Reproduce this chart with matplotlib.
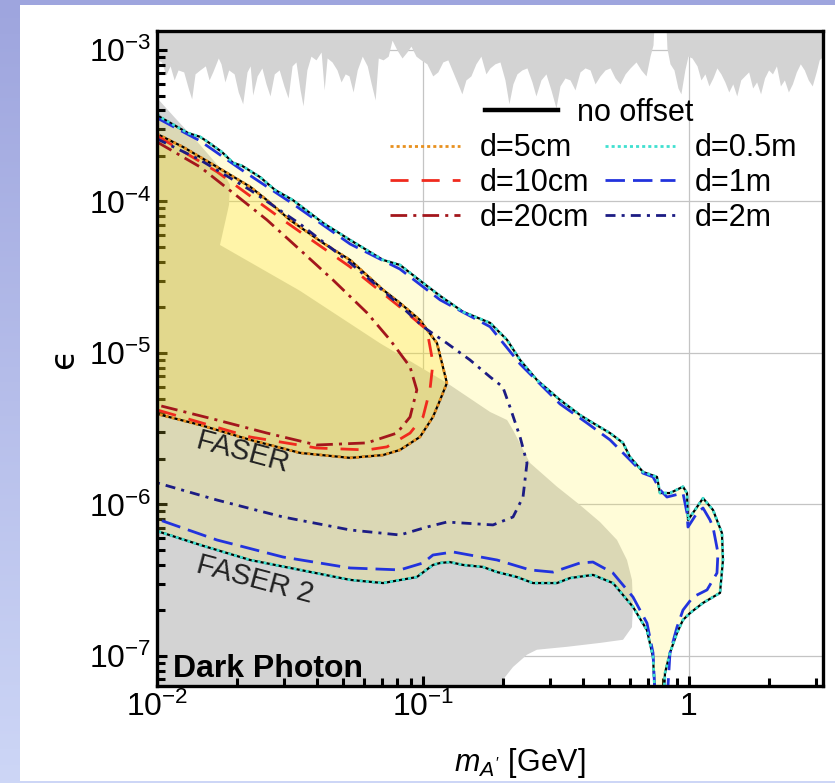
import numpy as np
import matplotlib
matplotlib.use("Agg")
import matplotlib.pyplot as plt
from matplotlib.lines import Line2D
from matplotlib.patches import Rectangle
from matplotlib.ticker import FixedLocator, FixedFormatter, LogLocator, NullFormatter

plt.rcParams['font.family'] = ['Liberation Sans', 'DejaVu Sans']
plt.rcParams['mathtext.fontset'] = 'custom'
plt.rcParams['mathtext.rm'] = 'Liberation Sans'
plt.rcParams['mathtext.it'] = 'Liberation Sans:italic'
plt.rcParams['mathtext.bf'] = 'Liberation Sans:bold'

# ---- existing bounds: jagged band at the top (lower edge)
band_m = [0.0100, 0.0104, 0.0108, 0.0112, 0.0116, 0.0120, 0.0126, 0.0131, 0.0135, 0.0139,
          0.0145, 0.0152, 0.0157, 0.0162, 0.0170, 0.0174, 0.0180, 0.0186, 0.0195, 0.0202,
          0.0210, 0.0218, 0.0224, 0.0229, 0.0238, 0.0248, 0.0257, 0.0266, 0.0276, 0.0288,
          0.0300, 0.0311, 0.0322, 0.0333, 0.0345, 0.0354, 0.0366, 0.0379, 0.0396, 0.0414,
          0.0425, 0.0436, 0.0455, 0.0475, 0.0492, 0.0510, 0.0527, 0.0546, 0.0566, 0.0591,
          0.0617, 0.0639, 0.0661, 0.0679, 0.0708, 0.0740, 0.0765, 0.0798, 0.0834, 0.0870,
          0.0901, 0.0941, 0.0982, 0.1034, 0.1088, 0.1137, 0.1187, 0.1240, 0.1295, 0.1352,
          0.1400, 0.1450, 0.1514, 0.1581, 0.1651, 0.1724, 0.1785, 0.1864, 0.1947, 0.2033,
          0.2104, 0.2178, 0.2255, 0.2355, 0.2459, 0.2568, 0.2658, 0.2776, 0.2899, 0.3027,
          0.3162, 0.3273, 0.3418, 0.3570, 0.3728, 0.3893, 0.4066, 0.4246, 0.4434, 0.4630,
          0.4836, 0.5050, 0.5273, 0.5507, 0.5751, 0.6006, 0.6322, 0.6602, 0.6895, 0.7136,
          0.7324, 0.7452, 0.8125, 0.8265, 0.8484, 0.8780, 0.9087, 0.9323, 0.9648, 0.9913,
          1.026, 1.072, 1.109, 1.148, 1.188, 1.230, 1.273, 1.318, 1.364, 1.411,
          1.461, 1.512, 1.565, 1.619, 1.676, 1.735, 1.796, 1.858, 1.923, 1.991,
          2.060, 2.132, 2.207, 2.284, 2.364, 2.447, 2.533, 2.621, 2.713, 2.808,
          2.906, 3.008, 3.087, 3.19]
band_eps = [8.6e-4, 8.33e-4, 6.84e-4, 7.85e-4, 6.34e-4, 7.38e-4, 7.16e-4, 5.61e-4, 4.75e-4, 6.95e-4,
            7.38e-4, 7.85e-4, 6.34e-4, 7.16e-4, 8.85e-4, 8.1e-4, 6.15e-4, 7.38e-4, 6.95e-4, 5.28e-4,
            4.41e-4, 7.16e-4, 7.85e-4, 5.04e-4, 6.74e-4, 7.61e-4, 5.97e-4, 4.97e-4, 6.95e-4, 7.38e-4,
            5.79e-4, 4.82e-4, 7.85e-4, 8.33e-4, 5.45e-4, 4.28e-4, 7.38e-4, 9.1e-4, 8.6e-4, 9.7e-4,
            5.45e-4, 8.85e-4, 8.33e-4, 7.38e-4, 6.15e-4, 6.95e-4, 6.74e-4, 5.28e-4, 7.38e-4, 9.1e-4,
            7.85e-4, 5.97e-4, 4.68e-4, 8.85e-4, 8.6e-4, 9.1e-4, 1.16e-3, 1.0e-3, 8.85e-4, 9.7e-4,
            1.06e-3, 9.1e-4, 8.6e-4, 8.1e-4, 6.74e-4, 7.16e-4, 8.33e-4, 8.6e-4, 7.16e-4, 5.97e-4,
            5.13e-4, 6.34e-4, 6.74e-4, 8.1e-4, 9.1e-4, 6.95e-4, 7.61e-4, 8.1e-4, 8.33e-4, 6.34e-4,
            4.41e-4, 5.97e-4, 6.95e-4, 7.38e-4, 7.61e-4, 6.15e-4, 4.97e-4, 6.34e-4, 6.95e-4, 5.45e-4,
            4.14e-4, 5.79e-4, 6.53e-4, 6.34e-4, 5.45e-4, 7.16e-4, 7.61e-4, 7.38e-4, 5.97e-4, 6.74e-4,
            7.38e-4, 7.61e-4, 6.53e-4, 5.97e-4, 6.95e-4, 7.61e-4, 8.33e-4, 7.38e-4, 6.74e-4, 9.1e-4,
            1.08e-3, 2.0e-3, 2.0e-3, 1.02e-3, 8.1e-4, 7.38e-4, 5.61e-4, 5.13e-4, 7.38e-4, 9.1e-4,
            8.85e-4, 7.85e-4, 6.34e-4, 6.95e-4, 5.79e-4, 6.53e-4, 7.61e-4, 6.95e-4, 6.15e-4, 5.28e-4,
            5.97e-4, 4.97e-4, 6.34e-4, 6.74e-4, 7.16e-4, 5.61e-4, 6.15e-4, 5.13e-4, 6.53e-4, 7.38e-4,
            6.95e-4, 7.85e-4, 5.79e-4, 6.34e-4, 5.28e-4, 5.97e-4, 7.16e-4, 8.1e-4, 7.38e-4, 6.34e-4,
            5.79e-4, 7.16e-4, 8.6e-4, 9.1e-4]

# ---- existing bounds: big region at low epsilon (outline)
bound_m = [0.0100, 0.01169, 0.01452, 0.01754, 0.01881, 0.01865, 0.01725, 0.0345, 0.0689, 0.123,
           0.1787, 0.207, 0.218, 0.2525, 0.319, 0.389, 0.4628, 0.5363, 0.5846, 0.6104,
           0.6158, 0.6104, 0.5649, 0.4628, 0.3476, 0.268, 0.246, 0.218, 0.1995, 0.1948, 0.0100]
bound_eps = [4.82e-4, 3.56e-4, 2.36e-4, 1.61e-4, 1.29e-4, 9.48e-5, 5.16e-5, 2.57e-5, 1.16e-5, 6.34e-6,
             4.08e-6, 3.61e-6, 3.10e-6, 1.88e-6, 1.31e-6, 9.93e-7, 7.66e-7, 5.83e-7, 4.30e-7, 3.18e-7,
             2.17e-7, 1.55e-7, 1.28e-7, 1.22e-7, 1.15e-7, 1.10e-7, 1.02e-7, 8.46e-8, 6.95e-8, 3e-8, 3e-8]

# ---- FASER 2 reach, no offset (same as d=0.5m)
faser2_m = [0.0100, 0.01026, 0.01307, 0.01452, 0.01554, 0.01754, 0.01931, 0.02087, 0.02438, 0.0278,
            0.03245, 0.0421, 0.0532, 0.0708, 0.0819, 0.100, 0.116, 0.1414, 0.1787, 0.207,
            0.2317, 0.268, 0.3273, 0.389, 0.4355, 0.5047, 0.5649, 0.5998, 0.6715, 0.758,
            0.778, 0.8484, 0.9493, 0.9828, 0.9913, 1.072, 1.129, 1.231, 1.33, 1.342,
            1.308, 1.129, 1.0087, 0.9493, 0.9013, 0.8484, 0.8125, 0.7915, 0.758, 0.7323,
            0.695, 0.6158, 0.5178, 0.4355, 0.357, 0.319, 0.259, 0.2256, 0.190, 0.168,
            0.1414, 0.126, 0.116, 0.109, 0.0948, 0.0708, 0.0532, 0.0345, 0.0224, 0.01452, 0.0100]
faser2_eps = [3.78e-4, 3.61e-4, 2.83e-4, 2.67e-4, 2.47e-4, 2.12e-4, 1.80e-4, 1.72e-4, 1.45e-4, 1.19e-4,
              1.02e-4, 7.21e-5, 5.57e-5, 4.11e-5, 3.81e-5, 2.90e-5, 2.38e-5, 1.87e-5, 1.58e-5, 1.22e-5,
              8.99e-6, 6.64e-6, 4.90e-6, 3.90e-6, 3.45e-6, 2.96e-6, 2.55e-6, 2.06e-6, 1.64e-6, 1.52e-6,
              1.19e-6, 1.19e-6, 1.31e-6, 1.19e-6, 7.91e-7, 9.62e-7, 1.10e-6, 9.20e-7, 6.48e-7, 4.30e-7,
              2.61e-7, 2.24e-7, 1.92e-7, 1.73e-7, 1.42e-7, 1.05e-7, 7.72e-8, 3e-8, 3e-8, 9.85e-8,
              1.48e-7, 2.11e-7, 3.03e-7, 3.43e-7, 3.27e-7, 3.03e-7, 3.03e-7, 3.32e-7, 3.58e-7, 3.87e-7,
              3.99e-7, 4.17e-7, 4.11e-7, 3.99e-7, 3.32e-7, 3.03e-7, 3.18e-7, 3.70e-7, 4.30e-7, 5.41e-7, 6.68e-7]

# ---- FASER 2, d=1m
d1m_m = [0.0100, 0.01452, 0.02087, 0.03245, 0.0532, 0.0819, 0.116, 0.1787, 0.2317, 0.3273,
         0.4135, 0.5047, 0.5998, 0.6715, 0.7323, 0.778, 0.8265, 0.9493, 0.9828, 0.9913,
         1.072, 1.129, 1.199, 1.231, 1.285, 1.274, 1.169, 1.035, 0.9493, 0.9013,
         0.8484, 0.8125, 0.758, 0.7323, 0.695, 0.6158, 0.5178, 0.4355, 0.389, 0.308,
         0.2525, 0.190, 0.1297, 0.109, 0.100, 0.0819, 0.0532, 0.02977, 0.01681, 0.0100]
d1m_eps = [3.56e-4, 2.51e-4, 1.61e-4, 9.63e-5, 5.24e-5, 3.58e-5, 2.24e-5, 1.49e-5, 8.46e-6, 4.61e-6,
           3.45e-6, 2.67e-6, 1.97e-6, 1.61e-6, 1.52e-6, 1.25e-6, 1.12e-6, 1.19e-6, 8.79e-7, 7.10e-7,
           8.79e-7, 9.48e-7, 7.91e-7, 7.10e-7, 4.79e-7, 3.53e-7, 2.73e-7, 2.45e-7, 2.01e-7, 1.55e-7,
           1.05e-7, 3e-8, 3e-8, 1.05e-7, 1.65e-7, 2.45e-7, 3.53e-7, 4.17e-7, 4.11e-7, 3.58e-7,
           3.70e-7, 4.30e-7, 4.86e-7, 4.64e-7, 4.11e-7, 3.70e-7, 3.81e-7, 4.50e-7, 5.83e-7, 8.02e-7]

# ---- FASER 2, d=2m
d2m_m = [0.0100, 0.01452, 0.0224, 0.0345, 0.0532, 0.0819, 0.100, 0.123, 0.1502, 0.1787,
         0.1995, 0.2123, 0.2317, 0.246, 0.2377, 0.218, 0.1833, 0.123, 0.1035, 0.0819,
         0.0532, 0.02977, 0.01681, 0.0100]
d2m_eps = [2.59e-4, 1.88e-4, 1.19e-4, 7.10e-5, 3.93e-5, 2.07e-5, 1.49e-5, 1.16e-5, 8.99e-6, 6.95e-6,
           5.97e-6, 4.40e-6, 2.79e-6, 1.88e-6, 1.12e-6, 8.27e-7, 7.33e-7, 7.66e-7, 7.10e-7, 6.29e-7,
           6.79e-7, 8.27e-7, 1.07e-6, 1.39e-6]

# ---- FASER reach, no offset (same as d=5cm)
faser_m = [0.0100, 0.01252, 0.01681, 0.0224, 0.02591, 0.0316, 0.0421, 0.0532, 0.0708, 0.0819,
           0.0974, 0.1129, 0.123, 0.116, 0.109, 0.0974, 0.0819, 0.0708, 0.0532, 0.0345,
           0.0224, 0.01452, 0.0100]
faser_eps = [2.79e-4, 2.29e-4, 1.69e-4, 1.25e-4, 1.02e-4, 7.55e-5, 5.32e-5, 4.11e-5, 2.61e-5, 2.14e-5,
             1.65e-5, 1.16e-5, 6.34e-6, 4.90e-6, 3.78e-6, 2.79e-6, 2.29e-6, 2.12e-6, 2.03e-6, 2.19e-6,
             2.67e-6, 3.35e-6, 3.96e-6]

# ---- FASER, d=10cm
d10_m = [0.0100, 0.01681, 0.02977, 0.0532, 0.0819, 0.1035, 0.109, 0.1062, 0.100, 0.0894,
         0.0732, 0.0616, 0.0398, 0.0224, 0.0100]
d10_eps = [2.71e-4, 1.57e-4, 7.55e-5, 3.70e-5, 2.01e-5, 1.42e-5, 8.59e-6, 5.70e-6, 3.78e-6, 2.96e-6,
           2.40e-6, 2.29e-6, 2.36e-6, 2.79e-6, 4.21e-6]

# ---- FASER, d=20cm
d20_m = [0.0100, 0.01452, 0.01931, 0.02591, 0.0345, 0.0459, 0.0616, 0.0752, 0.0894, 0.0948,
         0.0894, 0.0798, 0.0616, 0.0398, 0.02591, 0.01681, 0.0100]
d20_eps = [2.47e-4, 1.69e-4, 1.14e-4, 7.55e-5, 4.79e-5, 3.03e-5, 1.84e-5, 1.22e-5, 8.09e-6, 5.70e-6,
           3.78e-6, 2.96e-6, 2.55e-6, 2.47e-6, 2.96e-6, 3.61e-6, 4.54e-6]

xticks = [0.01, 0.1, 1]
xticklabels = [r'$10^{-2}$', r'$10^{-1}$', '1']
yticks = [1e-7, 1e-6, 1e-5, 1e-4, 1e-3]
yticklabels = [r'$10^{-7}$', r'$10^{-6}$', r'$10^{-5}$', r'$10^{-4}$', r'$10^{-3}$']

gray = '#d3d3d3'
c_5cm, c_10cm, c_20cm = '#e8901e', '#f02a1e', '#a3161c'
c_05m, c_1m, c_2m = '#40e0d0', '#2233dd', '#1c1c84'

W, H = 835, 783
fig = plt.figure(figsize=(W / 100, H / 100), dpi=100)

# slide-like backdrop
bg = fig.add_axes([0, 0, 1, 1], zorder=-10)
bg.set_axis_off()
g = np.linspace(0, 1, 256)[:, None, None]
top_c = np.array([158, 165, 222]) / 255
bot_c = np.array([205, 214, 246]) / 255
bg.imshow(top_c * (1 - g) + bot_c * g, aspect='auto', extent=[0, 1, 0, 1])
bg.add_patch(Rectangle((20 / W, 2 / H), 1 - 20 / W, 1 - 7 / H, color='white', lw=0))
bg.set_xlim(0, 1)
bg.set_ylim(0, 1)

ax = fig.add_axes([157 / W, 1 - 686 / H, 666 / W, 655 / H])
ax.set_xscale('log')
ax.set_yscale('log')
ax.set_xlim(0.01, 3.19)
ax.set_ylim(10 ** -7.198, 10 ** -2.875)

# grid under the shaded regions
for v in xticks[1:]:
    ax.axvline(v, color='#c4c4c4', lw=0.9, zorder=0.5)
for v in yticks:
    ax.axhline(v, color='#c4c4c4', lw=0.9, zorder=0.5)

# existing constraints
ax.fill_between(band_m, band_eps, 2e-3, color=gray, lw=0, zorder=1)
ax.fill(bound_m, bound_eps, color=gray, lw=0, zorder=1)

# sensitivity regions
ax.fill(faser2_m, faser2_eps, color=(1.0, 0.94, 0.24), alpha=0.2, lw=0, zorder=2)
ax.fill(faser_m, faser_eps, color=(1.0, 0.86, 0.0), alpha=0.22, lw=0, zorder=2.1)

lw = 2.0
ax.plot(faser2_m, faser2_eps, color='black', lw=1.6, zorder=3)
ax.plot(faser_m, faser_eps, color='black', lw=1.6, zorder=3)
ax.plot(faser_m, faser_eps, color=c_5cm, lw=lw, dashes=(1.1, 1.1), zorder=3.2)
ax.plot(d10_m, d10_eps, color=c_10cm, lw=lw, dashes=(6.5, 4.7), zorder=3.2)
ax.plot(d20_m, d20_eps, color=c_20cm, lw=lw, dashes=(6.0, 2.2, 1.1, 2.2), zorder=3.2)
ax.plot(d1m_m, d1m_eps, color=c_1m, lw=lw, dashes=(7.0, 2.9), zorder=3.1)
ax.plot(faser2_m, faser2_eps, color=c_05m, lw=lw, dashes=(1.1, 1.1), zorder=3.3)
ax.plot(d2m_m, d2m_eps, color=c_2m, lw=lw, dashes=(3.6, 2.2, 1.1, 2.2), zorder=3.2)

# axes styling
for s in ax.spines.values():
    s.set_linewidth(2.4)
    s.set_zorder(5)
ax.xaxis.set_major_locator(FixedLocator(xticks))
ax.xaxis.set_major_formatter(FixedFormatter(xticklabels))
ax.yaxis.set_major_locator(FixedLocator(yticks))
ax.yaxis.set_major_formatter(FixedFormatter(yticklabels))
ax.xaxis.set_minor_locator(LogLocator(base=10, subs=np.arange(2, 10), numticks=20))
ax.yaxis.set_minor_locator(LogLocator(base=10, subs=np.arange(2, 10), numticks=20))
ax.xaxis.set_minor_formatter(NullFormatter())
ax.yaxis.set_minor_formatter(NullFormatter())
ax.tick_params(which='both', direction='in', top=False, right=False, width=2.2, zorder=6)
ax.tick_params(which='major', length=7, labelsize=23, pad=4)
ax.tick_params(which='minor', length=6)

ax.set_xlabel(r'$m_{A^\prime}$ [GeV]', fontsize=22)
ax.xaxis.set_label_coords(0.545, -0.092)
ax.set_ylabel('ϵ', fontsize=24, family=['DejaVu Sans'])
ax.yaxis.set_label_coords(-0.115, 0.5)

# legend
h_no = Line2D([], [], color='black', lw=3.2)
h5 = Line2D([], [], color=c_5cm, lw=lw, dashes=(1.1, 1.1))
h10 = Line2D([], [], color=c_10cm, lw=lw, dashes=(6.5, 4.7))
h20 = Line2D([], [], color=c_20cm, lw=lw, dashes=(6.0, 2.2, 1.1, 2.2))
h05 = Line2D([], [], color=c_05m, lw=lw, dashes=(1.1, 1.1))
h1 = Line2D([], [], color=c_1m, lw=lw, dashes=(7.0, 2.9))
h2 = Line2D([], [], color=c_2m, lw=lw, dashes=(3.6, 2.2, 1.1, 2.2))

leg1 = ax.legend([h_no], ['no offset'], loc='center left', bbox_to_anchor=(0.4925, 0.875),
                 frameon=False, fontsize=22, borderpad=0, borderaxespad=0,
                 handlelength=2.4, handletextpad=0.6)
ax.add_artist(leg1)
ax.legend([h5, h10, h20, h05, h1, h2], ['d=5cm', 'd=10cm', 'd=20cm', 'd=0.5m', 'd=1m', 'd=2m'],
          ncol=2, loc='center left', bbox_to_anchor=(0.35, 0.768), frameon=False, fontsize=22,
          borderpad=0, borderaxespad=0, handlelength=2.3, handletextpad=0.65,
          columnspacing=0.5, labelspacing=0.15)

ax.text(0.024, 0.014, 'Dark Photon', transform=ax.transAxes, fontsize=23, weight='bold',
        va='baseline', ha='left', zorder=7)
ax.text(0.02105, 2.19e-6, 'FASER', fontsize=21, color='#222222', rotation=-15,
        ha='center', va='center', zorder=7)
ax.text(0.02335, 3.18e-7, 'FASER 2', fontsize=21, color='#222222', rotation=-15,
        ha='center', va='center', zorder=7)

fig.savefig('out.png', dpi=100)
